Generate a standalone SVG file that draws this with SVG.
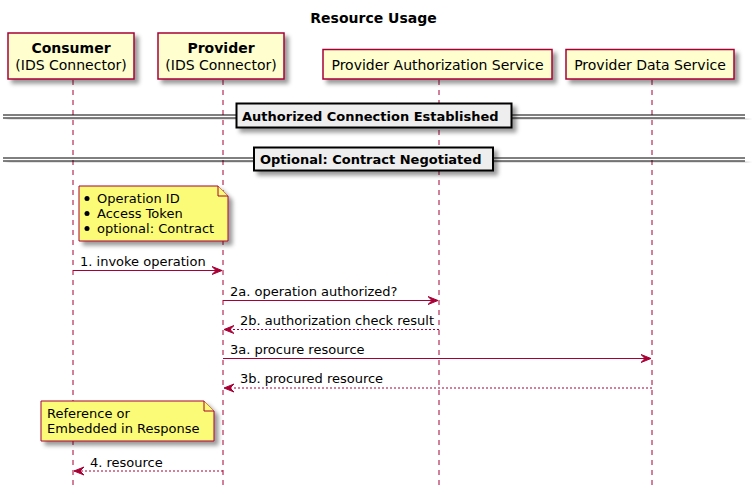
<svg xmlns="http://www.w3.org/2000/svg" width="754" height="500" viewBox="0 0 754 500">
<defs>
<filter id="sh" x="-20%" y="-20%" width="150%" height="160%">
<feGaussianBlur in="SourceAlpha" stdDeviation="2" result="b"/>
<feColorMatrix in="b" type="matrix" values="0 0 0 0 0  0 0 0 0 0  0 0 0 0 0  0 0 0 0.4 0" result="c"/>
<feOffset in="c" dx="4" dy="4" result="o"/>
<feMerge><feMergeNode in="o"/><feMergeNode in="SourceGraphic"/></feMerge>
</filter>
<marker id="ah" viewBox="0 0 11 10" refX="10" refY="5" markerWidth="11" markerHeight="10" markerUnits="userSpaceOnUse" orient="auto">
<path d="M0,1 L10,5 L0,9 L4,5 Z" fill="#A80036" stroke="#A80036" stroke-width="1"/>
</marker>
</defs>
<style>
text{font-family:"DejaVu Sans","Liberation Sans",sans-serif;font-size:13px;fill:#000}
.title{font-size:14px;font-weight:bold}
.p{font-size:14px}
.b{font-weight:bold}
.part{fill:#FEFECE;stroke:#A80036;stroke-width:1.5}
.life{stroke:#A80036;stroke-width:1;stroke-dasharray:5,5;fill:none}
.msg{stroke:#A80036;stroke-width:1;fill:none}
.dash{stroke-dasharray:2,2}
.note{fill:#FBFB77;stroke:#A80036;stroke-width:1}
.divbox{fill:#EEEEEE;stroke:#000;stroke-width:2}
.divline{stroke:#000;stroke-width:1}
</style>
<text class="title" x="373.5" y="23" text-anchor="middle">Resource Usage</text>

<g id="lifelines">
<line class="life" x1="73" y1="80" x2="73" y2="490"/>
<line class="life" x1="223" y1="80" x2="223" y2="490"/>
<line class="life" x1="439" y1="80" x2="439" y2="490"/>
<line class="life" x1="652" y1="80" x2="652" y2="490"/>
</g>

<g id="consumer">
<rect class="part" x="8" y="33" width="126" height="46" filter="url(#sh)"/>
<text class="p b" x="71" y="53" text-anchor="middle">Consumer</text>
<text class="p" x="71" y="70" text-anchor="middle">(IDS Connector)</text>
</g>
<g id="provider">
<rect class="part" x="158" y="33" width="126" height="46" filter="url(#sh)"/>
<text class="p b" x="221" y="53" text-anchor="middle">Provider</text>
<text class="p" x="221" y="70" text-anchor="middle">(IDS Connector)</text>
</g>
<g id="authservice">
<rect class="part" x="323" y="49.5" width="229" height="29.5" filter="url(#sh)"/>
<text class="p" x="437.5" y="70" text-anchor="middle">Provider Authorization Service</text>
</g>
<g id="dataservice">
<rect class="part" x="566" y="49.5" width="168" height="29.5" filter="url(#sh)"/>
<text class="p" x="650" y="70" text-anchor="middle">Provider Data Service</text>
</g>

<g id="divider1">
<g filter="url(#sh)">
<line class="divline" x1="3" y1="115" x2="745" y2="115"/>
<line class="divline" x1="3" y1="118" x2="745" y2="118"/>
</g>
<rect class="divbox" x="236.5" y="103.5" width="275" height="24" filter="url(#sh)"/>
<text class="b" x="242" y="120.5">Authorized Connection Established</text>
</g>
<g id="divider2">
<g filter="url(#sh)">
<line class="divline" x1="3" y1="158" x2="745" y2="158"/>
<line class="divline" x1="3" y1="161" x2="745" y2="161"/>
</g>
<rect class="divbox" x="254" y="147.5" width="239" height="23" filter="url(#sh)"/>
<text class="b" x="260" y="164">Optional: Contract Negotiated</text>
</g>

<g id="note1">
<path class="note" d="M79,186 L218,186 L228,196 L228,241 L79,241 Z" filter="url(#sh)"/>
<path class="note" d="M218,186 L218,196 L228,196" fill="none"/>
<circle cx="87" cy="198.5" r="2.5" fill="#000"/>
<circle cx="87" cy="213.5" r="2.5" fill="#000"/>
<circle cx="87" cy="228.5" r="2.5" fill="#000"/>
<text x="97" y="203">Operation ID</text>
<text x="97" y="218">Access Token</text>
<text x="97" y="233">optional: Contract</text>
</g>

<g id="note2">
<path class="note" d="M41,401 L204,401 L214,411 L214,441 L41,441 Z" filter="url(#sh)"/>
<path class="note" d="M204,401 L204,411 L214,411" fill="none"/>
<text x="47" y="417.5">Reference or</text>
<text x="47" y="432.5">Embedded in Response</text>
</g>

<g id="connectors">
<line class="msg" x1="73" y1="270.5" x2="222" y2="270.5" marker-end="url(#ah)"/>
<text x="80" y="266">1. invoke operation</text>
<line class="msg" x1="223" y1="300.5" x2="438" y2="300.5" marker-end="url(#ah)"/>
<text x="230" y="296">2a. operation authorized?</text>
<line class="msg dash" x1="439" y1="329.5" x2="224" y2="329.5" marker-end="url(#ah)"/>
<text x="240" y="325">2b. authorization check result</text>
<line class="msg" x1="223" y1="358.5" x2="651" y2="358.5" marker-end="url(#ah)"/>
<text x="230" y="354">3a. procure resource</text>
<line class="msg dash" x1="652" y1="388" x2="224" y2="388" marker-end="url(#ah)"/>
<text x="240" y="383">3b. procured resource</text>
<line class="msg dash" x1="223" y1="471" x2="74" y2="471" marker-end="url(#ah)"/>
<text x="90" y="466.5">4. resource</text>
</g>
</svg>
